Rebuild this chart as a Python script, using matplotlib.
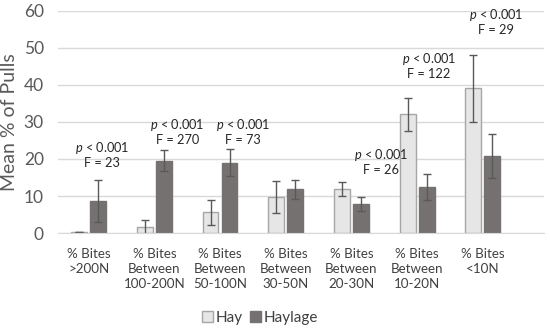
import matplotlib
matplotlib.use('Agg')
import matplotlib.pyplot as plt
import numpy as np

categories = ['% Bites\n>200N', '% Bites\nBetween\n100-200N', '% Bites\nBetween\n50-100N',
              '% Bites\nBetween\n30-50N', '% Bites\nBetween\n20-30N', '% Bites\nBetween\n10-20N',
              '% Bites\n<10N']
hay = [0.2, 1.5, 5.6, 9.7, 12.0, 32.1, 39.1]
hay_err = [0.0, 2.0, 3.4, 4.3, 1.9, 4.5, 9.1]
haylage = [8.7, 19.5, 19.0, 11.8, 7.8, 12.5, 20.8]
haylage_err = [5.7, 2.8, 3.6, 2.6, 1.8, 3.5, 5.9]
# significance labels per category (None = no label)
f_values = ['23', '270', '73', None, '26', '122', '29']

plt.rcParams['font.family'] = ['Lato', 'DejaVu Sans']
plt.rcParams['mathtext.fontset'] = 'custom'
plt.rcParams['mathtext.it'] = 'Lato:italic'

fig = plt.figure(figsize=(5.5, 3.31), dpi=100)
ax = fig.add_axes([0.105, 0.296, 0.884, 0.671])

x = np.arange(len(categories))
w = 0.24
off = 0.145
err_kw = dict(ecolor='#595959', elinewidth=1.0, capsize=3, capthick=1.0)

ax.bar(x - off, hay, w, yerr=hay_err, color='#e7e6e6', edgecolor='#a6a6a6',
       linewidth=1.0, label='Hay', error_kw=err_kw, zorder=2)
ax.bar(x + off, haylage, w, yerr=haylage_err, color='#767171', edgecolor='#767171',
       linewidth=1.0, label='Haylage', error_kw=err_kw, zorder=2)

# annotation positions (x offset from category centre, y of the p-line in data units)
ann_pos = [(0.2, 23.0), (0.35, 29.2), (0.35, 29.2), None, (0.45, 21.2), (0.18, 47.0), (0.2, 59.0)]
for i, f in enumerate(f_values):
    if f is None:
        continue
    dx, yy = ann_pos[i]
    ax.text(i + dx, yy, r'$\it{p}$ < 0.001', ha='center', va='center', fontsize=9.2, color='#262626')
    ax.text(i + dx, yy - 4.1, f'F = {f}', ha='center', va='center', fontsize=9.2, color='#262626')

ax.set_ylim(0, 60)
ax.set_yticks(np.arange(0, 61, 10))
ax.set_xlim(-0.47, 6.93)
ax.set_xticks(x)
ax.set_xticklabels(categories, fontsize=9.6, color='#404040', linespacing=1.3)
ax.tick_params(axis='y', labelsize=12.5, colors='#595959', length=0, pad=10)
ax.tick_params(axis='x', length=0, pad=11)
ax.set_ylabel('Mean % of Pulls', fontsize=14, color='#595959', labelpad=4)

ax.grid(axis='y', color='#d9d9d9', linewidth=1.0, zorder=0)
ax.set_axisbelow(True)
for s in ['top', 'right', 'left']:
    ax.spines[s].set_visible(False)
ax.spines['bottom'].set_color('#d9d9d9')

fig.legend(loc='center', bbox_to_anchor=(0.473, 0.04), ncol=2, frameon=False,
           fontsize=11, handlelength=0.7, handleheight=0.7, handletextpad=0.2,
           columnspacing=0.45, labelcolor='#404040')

fig.savefig('out.png', dpi=100)
